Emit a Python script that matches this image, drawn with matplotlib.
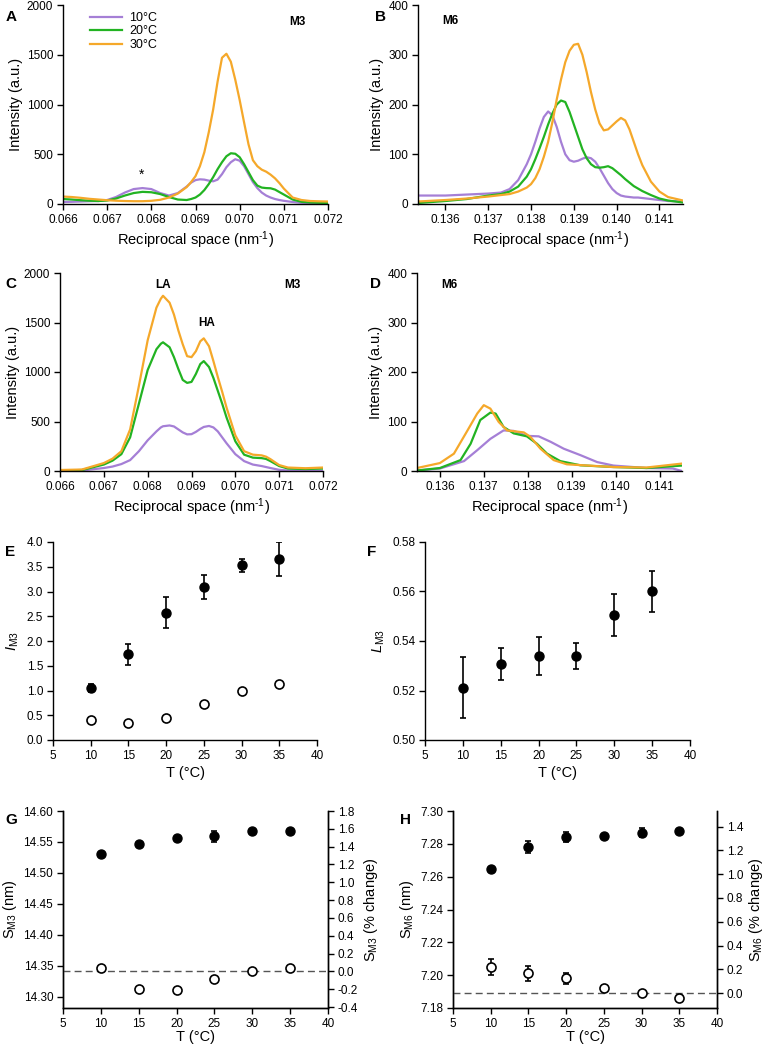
import matplotlib
matplotlib.use("Agg")
import matplotlib.pyplot as plt
import numpy as np

plt.rcParams['font.family'] = ['Liberation Sans', 'DejaVu Sans']
plt.rcParams['mathtext.fontset'] = 'custom'
plt.rcParams['mathtext.rm'] = 'Liberation Sans'
plt.rcParams['mathtext.it'] = 'Liberation Sans:italic'
plt.rcParams['mathtext.bf'] = 'Liberation Sans:bold'
plt.rcParams['axes.unicode_minus'] = False

# ---------------- data ----------------
temps_legend = ['10°C', '20°C', '30°C']

# Panel A (M3, first condition)
a_x = [0.0660, 0.0662, 0.0664, 0.0666, 0.0668, 0.0670, 0.0672, 0.0674, 0.0676, 0.0678,
       0.0680, 0.0682, 0.0684, 0.0686, 0.0688, 0.0689, 0.0690, 0.0691, 0.0692, 0.0693,
       0.0694, 0.0695, 0.0696, 0.0697, 0.0698, 0.0699, 0.0700, 0.0701, 0.0702, 0.0703,
       0.0704, 0.0705, 0.0706, 0.0707, 0.0708, 0.0709, 0.0710, 0.0712, 0.0714, 0.0716,
       0.0718, 0.0720]
a_10 = [20, 22, 25, 28, 30, 40, 70, 115, 150, 160, 150, 110, 85, 110, 175, 215, 240, 248, 245, 235,
        228, 245, 300, 370, 420, 450, 435, 380, 300, 220, 160, 115, 85, 65, 50, 40, 32, 20, 12, 8, 5, 5]
a_20 = [50, 45, 38, 33, 30, 35, 55, 85, 110, 122, 118, 100, 70, 45, 40, 50, 65, 95, 140, 200,
        270, 350, 420, 480, 510, 505, 470, 400, 320, 240, 185, 165, 160, 158, 145, 120, 95, 45, 22, 15, 12, 10]
a_30 = [75, 70, 62, 52, 45, 38, 33, 30, 28, 28, 32, 42, 65, 105, 170, 220, 280, 380, 520, 720,
        950, 1230, 1470, 1510, 1430, 1250, 1045, 820, 600, 440, 380, 345, 325, 295, 258, 210, 155, 65, 40, 30, 27, 25]

# Panel B (M6, first condition)
b_x = [0.13536, 0.1360, 0.1365, 0.1370, 0.1373, 0.1375, 0.1377, 0.1379, 0.1380, 0.1381, 0.1382,
       0.1383, 0.1384, 0.1385, 0.1386, 0.1387, 0.1388, 0.1389, 0.1390, 0.1391, 0.1392, 0.1393,
       0.1394, 0.1395, 0.1396, 0.1397, 0.1398, 0.1399, 0.1400, 0.1401, 0.1402, 0.1403, 0.1404,
       0.1405, 0.1406, 0.1408, 0.1410, 0.1412, 0.14155]
b_10 = [17, 17, 19, 21, 23, 30, 48, 80, 100, 125, 152, 175, 186, 178, 155, 125, 100, 88, 85, 87, 91, 94,
        92, 85, 72, 57, 42, 30, 22, 17, 15, 14, 13, 13, 12, 10, 8, 6, 5]
b_20 = [2, 6, 10, 17, 20, 25, 35, 55, 70, 90, 112, 135, 160, 182, 200, 208, 205, 185, 160, 135, 110, 92,
        80, 74, 73, 74, 76, 72, 65, 58, 50, 43, 36, 31, 26, 18, 11, 7, 3]
b_30 = [5, 8, 11, 15, 18, 20, 25, 33, 40, 52, 70, 95, 125, 165, 210, 250, 285, 308, 320, 322, 300, 265,
        225, 190, 162, 148, 150, 158, 166, 173, 168, 150, 125, 100, 78, 45, 25, 14, 7]

# Panel C (M3, second condition)
c_x = [0.0660, 0.0665, 0.0670, 0.0672, 0.0674, 0.0676, 0.0678, 0.0680, 0.0682, 0.0683, 0.06835,
       0.0685, 0.0686, 0.0687, 0.0688, 0.0689, 0.0690, 0.0691, 0.0692, 0.06928, 0.0694, 0.0695,
       0.0696, 0.0697, 0.0698, 0.0700, 0.0702, 0.0704, 0.0706, 0.0707, 0.0708, 0.0710, 0.0712,
       0.0716, 0.0720]
c_10 = [3, 5, 30, 45, 70, 110, 200, 310, 400, 440, 452, 460, 450, 420, 390, 370, 372, 395, 425, 445,
        455, 440, 400, 340, 280, 170, 100, 65, 50, 40, 30, 12, 5, 3, 3]
c_20 = [5, 10, 65, 105, 170, 340, 680, 1020, 1230, 1285, 1300, 1250, 1150, 1030, 920, 890, 900, 980,
        1080, 1110, 1050, 940, 810, 680, 540, 300, 165, 135, 130, 122, 100, 50, 25, 20, 25]
c_30 = [10, 15, 80, 125, 200, 420, 860, 1320, 1650, 1740, 1770, 1700, 1580, 1420, 1280, 1160, 1150,
        1210, 1310, 1340, 1260, 1110, 950, 800, 640, 360, 200, 165, 158, 145, 120, 60, 35, 28, 35]

# Panel D (M6, second condition)
d_x_10 = [0.13548, 0.1360, 0.13655, 0.13685, 0.13715, 0.13745, 0.13768, 0.13798, 0.13825, 0.13852,
          0.13882, 0.1392, 0.13958, 0.13995, 0.1407, 0.1413, 0.14151]
d_10 = [1, 5, 20, 42, 65, 82, 81, 71, 70, 59, 45, 32, 18, 11, 6, 5, 0]
d_x_20 = [0.13548, 0.1360, 0.13647, 0.1367, 0.13692, 0.13715, 0.13727, 0.13745, 0.13768, 0.13798,
          0.13821, 0.13844, 0.13874, 0.1392, 0.13995, 0.1407, 0.14151]
d_20 = [1, 6, 22, 55, 103, 118, 116, 89, 76, 70, 55, 35, 20, 11.5, 8, 6, 11]
d_x_30 = [0.13548, 0.1360, 0.13632, 0.13661, 0.13685, 0.1370, 0.13715, 0.13734, 0.13753, 0.13791,
          0.13806, 0.13829, 0.13859, 0.13889, 0.13995, 0.1407, 0.14151]
d_30 = [6, 16, 35, 79, 116, 133, 126, 99, 82, 78, 69, 45, 22, 13.5, 8, 7, 15]

# Panels E-H
T = [10, 15, 20, 25, 30, 35]
e_filled = [1.05, 1.73, 2.57, 3.09, 3.53, 3.65]
e_filled_err = [0.09, 0.205, 0.31, 0.235, 0.135, 0.34]
e_open = [0.41, 0.35, 0.45, 0.72, 1.00, 1.13]

f_vals = [0.5211, 0.5308, 0.5338, 0.5339, 0.5505, 0.5600]
f_err = [0.0123, 0.0065, 0.0077, 0.0054, 0.0083, 0.0082]

g_filled = [14.531, 14.546, 14.556, 14.559, 14.567, 14.568]
g_filled_err = [0.0, 0.0, 0.0, 0.0085, 0.0, 0.0]
g_open_pct = [0.035, -0.195, -0.21, -0.085, 0.0, 0.04]

h_filled = [7.2649, 7.2780, 7.2842, 7.2848, 7.2868, 7.2880]
h_filled_err = [0.0, 0.0038, 0.003, 0.0, 0.0028, 0.0]
h_open_pct = [0.22, 0.165, 0.125, 0.045, 0.0, -0.04]
h_open_err = [0.07, 0.066, 0.047, 0.0, 0.0, 0.0]

# ---------------- figure ----------------
W, H = 769, 1051
fig = plt.figure(figsize=(W / 100, H / 100), dpi=100)

def ax_at(l, t, r, b):
    return fig.add_axes([l / W, 1 - b / H, (r - l) / W, (b - t) / H])

C10, C20, C30 = '#A57FD6', '#22B322', '#F5A82A'
TICK = 8.5
LAB = 10.5
LW = 1.6

def style(ax, right=False):
    ax.spines['top'].set_visible(False)
    if not right:
        ax.spines['right'].set_visible(False)
    for s in ax.spines.values():
        s.set_linewidth(1.0)
    ax.tick_params(direction='out', length=4, width=1, labelsize=TICK, pad=3)

XLAB = 'Reciprocal space (nm$^{\\text{-1}}$)'

def spectrum(ax, curves, xlim, xticks, ylim, yticks, xfmt='{:.3f}'):
    for xs, ys, c, lab in curves:
        ax.plot(xs, ys, color=c, lw=LW, label=lab, solid_joinstyle='round')
    ax.set_xlim(*xlim)
    ax.set_ylim(*ylim)
    ax.set_xticks(xticks)
    ax.set_xticklabels([xfmt.format(v) for v in xticks])
    ax.set_yticks(yticks)
    style(ax)
    ax.set_xlabel(XLAB, fontsize=LAB, labelpad=3)
    ax.set_ylabel('Intensity (a.u.)', fontsize=LAB, labelpad=3)

m3_ticks = [0.066, 0.067, 0.068, 0.069, 0.070, 0.071, 0.072]
m6_ticks = [0.136, 0.137, 0.138, 0.139, 0.140, 0.141]

# A
axA = ax_at(63, 5, 328, 204)
spectrum(axA, [(a_x, a_10, C10, temps_legend[0]), (a_x, a_20, C20, temps_legend[1]),
               (a_x, a_30, C30, temps_legend[2])],
         (0.066, 0.072), m3_ticks, (0, 2000), [0, 500, 1000, 1500, 2000])
axA.legend(loc='upper left', bbox_to_anchor=(0.1, 0.965), frameon=False, fontsize=9,
           handlelength=2.6, handletextpad=0.6, labelspacing=0.12, borderpad=0, borderaxespad=0)
axA.text(0.0713, 1830, 'M3', fontsize=8.5, fontweight='bold', ha='center', va='center')
axA.text(0.06777, 290, '*', fontsize=10, ha='center', va='center')

# B
axB = ax_at(418, 5, 683, 204)
spectrum(axB, [(b_x, b_10, C10, None), (b_x, b_20, C20, None), (b_x, b_30, C30, None)],
         (0.13536, 0.14155), m6_ticks, (0, 400), [0, 100, 200, 300, 400])
axB.text(0.13611, 368, 'M6', fontsize=8.5, fontweight='bold', ha='center', va='center')

# C
axC = ax_at(60, 273, 323, 471)
spectrum(axC, [(c_x, c_10, C10, None), (c_x, c_20, C20, None), (c_x, c_30, C30, None)],
         (0.066, 0.072), m3_ticks, (0, 2000), [0, 500, 1000, 1500, 2000])
axC.text(0.06835, 1880, 'LA', fontsize=8.5, fontweight='bold', ha='center', va='center')
axC.text(0.06935, 1495, 'HA', fontsize=8.5, fontweight='bold', ha='center', va='center')
axC.text(0.0713, 1880, 'M3', fontsize=8.5, fontweight='bold', ha='center', va='center')

# D
axD = ax_at(417, 273, 682, 471)
spectrum(axD, [(d_x_10, d_10, C10, None), (d_x_20, d_20, C20, None), (d_x_30, d_30, C30, None)],
         (0.13548, 0.14151), m6_ticks, (0, 400), [0, 100, 200, 300, 400])
axD.text(0.13621, 376, 'M6', fontsize=8.5, fontweight='bold', ha='center', va='center')

MS = 6.5
EB = dict(elinewidth=1.2, capsize=2.5, capthick=1.2, ecolor='black')

# E
axE = ax_at(53, 542, 317, 740)
axE.errorbar(T, e_filled, yerr=e_filled_err, fmt='o', color='black', ms=MS, **EB)
axE.plot(T, e_open, 'o', mfc='white', mec='black', ms=MS, mew=1.2)
axE.set_xlim(5, 40)
axE.set_ylim(0, 4)
axE.set_xticks(range(5, 41, 5))
axE.set_yticks(np.arange(0, 4.01, 0.5))
axE.set_yticklabels(['{:.1f}'.format(v) for v in np.arange(0, 4.01, 0.5)])
style(axE)
axE.set_xlabel('T (°C)', fontsize=LAB, labelpad=3)
axE.set_ylabel('$I_{\\mathrm{M3}}$', fontsize=LAB, labelpad=4)

# F
axF = ax_at(425, 542, 690, 740)
axF.errorbar(T, f_vals, yerr=f_err, fmt='o', color='black', ms=MS, **EB)
axF.set_xlim(5, 40)
axF.set_ylim(0.50, 0.58)
axF.set_xticks(range(5, 41, 5))
fy = [0.50, 0.52, 0.54, 0.56, 0.58]
axF.set_yticks(fy)
axF.set_yticklabels(['{:.2f}'.format(v) for v in fy])
style(axF)
axF.set_xlabel('T (°C)', fontsize=LAB, labelpad=3)
axF.set_ylabel('$L_{\\mathrm{M3}}$', fontsize=LAB, labelpad=4)

# G
axG = ax_at(63, 811, 328, 1008)
axG.errorbar(T, g_filled, yerr=g_filled_err, fmt='o', color='black', ms=MS, zorder=3, **EB)
axG.set_xlim(5, 40)
axG.set_ylim(14.282, 14.60)
gy = [14.30, 14.35, 14.40, 14.45, 14.50, 14.55, 14.60]
axG.set_yticks(gy)
axG.set_yticklabels(['{:.2f}'.format(v) for v in gy])
axG.set_xticks(range(5, 41, 5))
style(axG, right=True)
axG.set_xlabel('T (°C)', fontsize=LAB, labelpad=0)
axG.set_ylabel('S$_{\\mathrm{M3}}$ (nm)', fontsize=LAB, labelpad=3)
axGr = axG.twinx()
axGr.axhline(0, color='#555555', lw=1.0, ls=(0, (5, 3)))
axGr.plot(T, g_open_pct, 'o', mfc='white', mec='black', ms=MS, mew=1.2)
axGr.set_ylim(-0.411, 1.80)
gr = np.arange(-0.4, 1.81, 0.2)
axGr.set_yticks(gr)
axGr.set_yticklabels(['{:.1f}'.format(v + 0.0) for v in gr])
axGr.spines['top'].set_visible(False)
for s in axGr.spines.values():
    s.set_linewidth(1.0)
axGr.tick_params(direction='out', length=4, width=1, labelsize=TICK, pad=3)
axGr.set_ylabel('S$_{\\mathrm{M3}}$ (% change)', fontsize=LAB, labelpad=3)

# H
axH = ax_at(453, 811, 717, 1008)
axH.errorbar(T, h_filled, yerr=h_filled_err, fmt='o', color='black', ms=MS, zorder=3, **EB)
axH.set_xlim(5, 40)
axH.set_ylim(7.18, 7.30)
hy = [7.18, 7.20, 7.22, 7.24, 7.26, 7.28, 7.30]
axH.set_yticks(hy)
axH.set_yticklabels(['{:.2f}'.format(v) for v in hy])
axH.set_xticks(range(5, 41, 5))
style(axH, right=True)
axH.set_xlabel('T (°C)', fontsize=LAB, labelpad=0)
axH.set_ylabel('S$_{\\mathrm{M6}}$ (nm)', fontsize=LAB, labelpad=3)
axHr = axH.twinx()
axHr.axhline(0, color='#555555', lw=1.0, ls=(0, (5, 3)))
axHr.errorbar(T, h_open_pct, yerr=h_open_err, fmt='o', mfc='white', mec='black', ms=MS, mew=1.2, **EB)
axHr.set_ylim(-0.126, 1.532)
hr = np.arange(0, 1.41, 0.2)
axHr.set_yticks(hr)
axHr.set_yticklabels(['{:.1f}'.format(v) for v in hr])
axHr.spines['top'].set_visible(False)
for s in axHr.spines.values():
    s.set_linewidth(1.0)
axHr.tick_params(direction='out', length=4, width=1, labelsize=TICK, pad=3)
axHr.set_ylabel('S$_{\\mathrm{M6}}$ (% change)', fontsize=LAB, labelpad=3)

# panel letters
for lab, x, y in [('A', 6, 10), ('B', 375, 10), ('C', 5, 277), ('D', 370, 277),
                  ('E', 5, 545), ('F', 367, 545), ('G', 5, 813), ('H', 400, 813)]:
    fig.text(x / W, 1 - y / H, lab, fontsize=11, fontweight='bold', ha='left', va='top')

fig.savefig('out.png', dpi=100)
